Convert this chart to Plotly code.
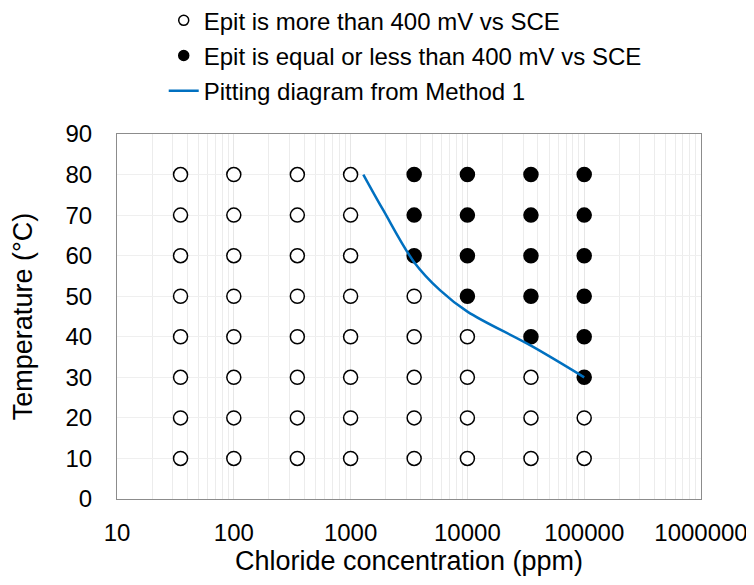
import plotly.graph_objects as go

# chloride concentrations (ppm) and test temperatures (C)
conc = [35, 100, 350, 1000, 3500, 10000, 35000, 100000]
temps = [10, 20, 30, 40, 50, 60, 70, 80]
# lowest temperature where Epit <= 400 mV vs SCE (None = never)
pit_from = [None, None, None, None, 60, 50, 40, 30]

# pitting diagram from Method 1
curve_x = [1285, 1905, 3500, 5820, 10000, 35000, 100000]
curve_y = [80, 71.2, 58.4, 51.5, 46.2, 37.8, 30]

open_x, open_y, fill_x, fill_y = [], [], [], []
for c, lim in zip(conc, pit_from):
    for t in temps:
        if lim is not None and t >= lim:
            fill_x.append(c)
            fill_y.append(t)
        else:
            open_x.append(c)
            open_y.append(t)

open_mk = dict(symbol="circle", color="white", line=dict(color="black", width=1.5))
fill_mk = dict(symbol="circle", color="black", line=dict(color="black", width=1.5))

fig = go.Figure()
fig.add_trace(go.Scatter(x=open_x, y=open_y, mode="markers", showlegend=False,
                         marker=dict(size=14, **open_mk)))
fig.add_trace(go.Scatter(x=fill_x, y=fill_y, mode="markers", showlegend=False,
                         marker=dict(size=14, **fill_mk)))
# legend entries (smaller symbols, as in the original)
fig.add_trace(go.Scatter(x=[None], y=[None], mode="markers", legendgroup="a",
                         name="Epit is more than 400 mV vs SCE",
                         marker=dict(size=10, **open_mk)))
fig.add_trace(go.Scatter(x=[None], y=[None], mode="markers", legendgroup="b",
                         name="Epit is equal or less than 400 mV vs SCE",
                         marker=dict(size=10, **fill_mk)))
fig.add_trace(go.Scatter(
    x=curve_x, y=curve_y, mode="lines", name="Pitting diagram from Method 1",
    legendgroup="c",
    line=dict(color="#0070C0", width=2.5, shape="spline"),
))

font = "Liberation Sans, Arial, sans-serif"
x_ticks = [10, 100, 1000, 10000, 100000, 1000000]
x_labels = ["10", "100", "1000", "10000", "100000", "1000000"]

fig.update_layout(
    width=754, height=585,
    margin=dict(l=109, r=61, t=126, b=94, autoexpand=False),
    paper_bgcolor="white", plot_bgcolor="white",
    font=dict(family=font, color="black"),
    legend=dict(
        x=0.080, y=1.372, xanchor="left", yanchor="top",
        font=dict(size=24, family=font), traceorder="grouped", tracegroupgap=1,
        itemwidth=30, bgcolor="rgba(0,0,0,0)",
    ),
    xaxis=dict(
        type="log", range=[1, 6], tickvals=x_ticks, ticktext=x_labels,
        showgrid=True, gridcolor="#e6e6e6", gridwidth=1,
        minor=dict(dtick="D1", showgrid=True, gridcolor="#ececec", gridwidth=1),
        showline=True, linecolor="#8c8c8c", linewidth=1, mirror=True,
        ticks="", tickfont=dict(size=24), ticklabelstandoff=12,
        title=dict(text="Chloride concentration (ppm)", font=dict(size=27), standoff=5),
        zeroline=False, automargin=False,
    ),
    yaxis=dict(
        range=[0, 90], dtick=10,
        showgrid=True, gridcolor="#efefef", gridwidth=1,
        showline=True, linecolor="#8c8c8c", linewidth=1, mirror=True,
        ticks="", tickfont=dict(size=24), ticklabelstandoff=19,
        title=dict(text="Temperature (°C)", font=dict(size=27), standoff=34),
        zeroline=False, automargin=False,
    ),
)

fig.write_html("out.html")
